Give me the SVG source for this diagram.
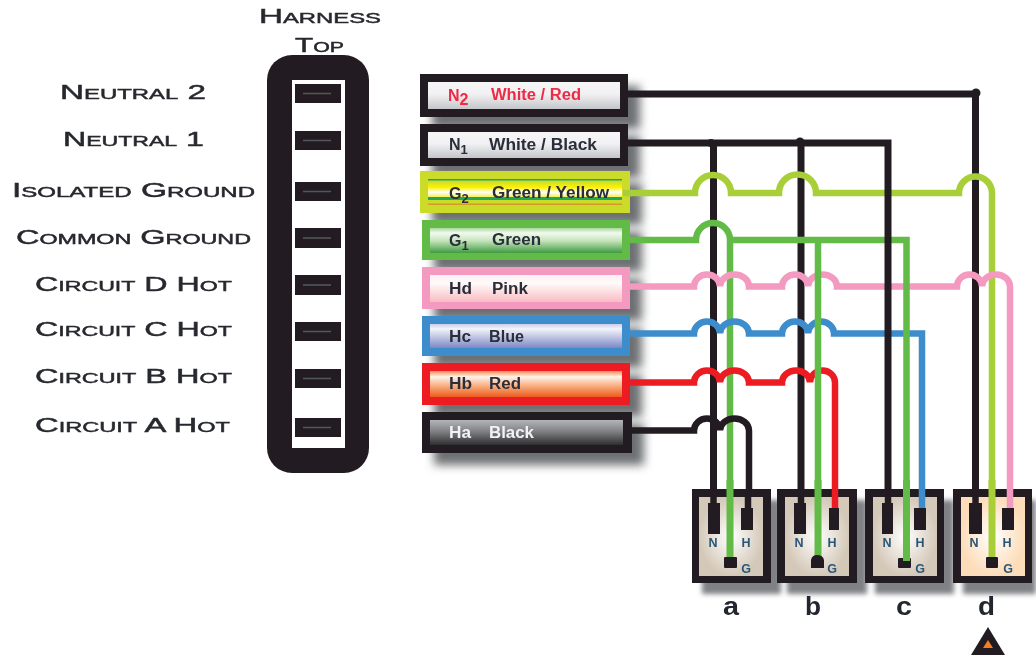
<svg xmlns="http://www.w3.org/2000/svg" width="1036" height="659" viewBox="0 0 1036 659">
<style>
.lab{font-family:"Liberation Sans",Arial,sans-serif;font-weight:400;font-size:19.5px;font-variant:small-caps;fill:#27292e;stroke:#27292e;stroke-width:.45}
.t{font-family:"Liberation Sans",Arial,sans-serif;font-weight:700;font-size:16px;fill:#2b2f3a}
.s{font-size:13px}
.w{fill:none;stroke-width:6.5;stroke-linejoin:miter}
.n{stroke-width:7}
.k{stroke:#231f20}
.yg{stroke:#a8cf38}
.g{stroke:#62bb46}
.p{stroke:#f49ac1}
.b{stroke:#3d8ccb}
.r{stroke:#ed1c24}
.dk{fill:#231f20}
.slot{fill:#231f20}
.sl{stroke:#55575a;stroke-width:1.5}
.shadow{fill:#6d6f72;filter:url(#blur)}
.cs{fill:#7f8185;filter:url(#blur2)}
.cl{font-family:"Liberation Sans",Arial,sans-serif;font-weight:700;font-size:12.5px;fill:#2a5675;text-anchor:middle}
.letter{font-family:"Liberation Sans",Arial,sans-serif;font-weight:700;font-size:25px;fill:#23262e}
</style>
<defs>
<filter id="blur" x="-20%" y="-40%" width="140%" height="180%"><feGaussianBlur stdDeviation="5"/></filter>
<filter id="blur2" x="-20%" y="-20%" width="140%" height="140%"><feGaussianBlur stdDeviation="2.5"/></filter>
<filter id="soft" x="0" y="0" width="1036" height="659" filterUnits="userSpaceOnUse"><feGaussianBlur stdDeviation="0.6"/></filter>
<linearGradient id="gN" x1="0" y1="0" x2="0" y2="1"><stop offset="0" stop-color="#f6f6f7"/><stop offset=".45" stop-color="#f1f1f3"/><stop offset="1" stop-color="#c4c6c9"/></linearGradient>
<linearGradient id="gG2" x1="0" y1="0" x2="0" y2="1"><stop offset="0" stop-color="#cbdb2a"/><stop offset=".4" stop-color="#fff200"/><stop offset=".7" stop-color="#ffffff"/><stop offset="1" stop-color="#f6ee4a"/></linearGradient>
<linearGradient id="gG1" x1="0" y1="0" x2="0" y2="1"><stop offset="0" stop-color="#a9d79b"/><stop offset=".2" stop-color="#f2f9ef"/><stop offset=".5" stop-color="#c7e5bd"/><stop offset="1" stop-color="#3f9c42"/></linearGradient>
<linearGradient id="gP" x1="0" y1="0" x2="0" y2="1"><stop offset="0" stop-color="#fdf0f2"/><stop offset=".3" stop-color="#fffafa"/><stop offset="1" stop-color="#f9bcc3"/></linearGradient>
<linearGradient id="gB" x1="0" y1="0" x2="0" y2="1"><stop offset="0" stop-color="#c9cdea"/><stop offset=".2" stop-color="#f3f4fb"/><stop offset="1" stop-color="#7c87c5"/></linearGradient>
<linearGradient id="gR" x1="0" y1="0" x2="0" y2="1"><stop offset="0" stop-color="#f58a4a"/><stop offset=".22" stop-color="#fff3ea"/><stop offset=".6" stop-color="#f8a878"/><stop offset="1" stop-color="#ee5a1c"/></linearGradient>
<linearGradient id="gK" x1="0" y1="0" x2="0" y2="1"><stop offset="0" stop-color="#b4b5b7"/><stop offset=".45" stop-color="#808284"/><stop offset="1" stop-color="#2f2f30"/></linearGradient>
<radialGradient id="gC"><stop offset="0" stop-color="#ffffff"/><stop offset="1" stop-color="#d4c8b8"/></radialGradient>
<radialGradient id="gD"><stop offset="0" stop-color="#ffffff"/><stop offset="1" stop-color="#fddcb9"/></radialGradient>
</defs>
<g id="diagram" filter="url(#soft)">
<rect width="1036" height="659" fill="#fff"/>
<g id="labels">
<text class="lab" x="259" y="23" textLength="122" lengthAdjust="spacingAndGlyphs">Harness</text>
<text class="lab" x="295" y="52" textLength="49" lengthAdjust="spacingAndGlyphs">Top</text>
<text class="lab" x="60" y="99" textLength="146" lengthAdjust="spacingAndGlyphs">Neutral 2</text>
<text class="lab" x="63" y="146" textLength="141" lengthAdjust="spacingAndGlyphs">Neutral 1</text>
<text class="lab" x="12" y="197" textLength="243" lengthAdjust="spacingAndGlyphs">Isolated Ground</text>
<text class="lab" x="16" y="244" textLength="235" lengthAdjust="spacingAndGlyphs">Common Ground</text>
<text class="lab" x="35" y="291" textLength="197" lengthAdjust="spacingAndGlyphs">Circuit D Hot</text>
<text class="lab" x="35" y="336" textLength="197" lengthAdjust="spacingAndGlyphs">Circuit C Hot</text>
<text class="lab" x="35" y="383" textLength="197" lengthAdjust="spacingAndGlyphs">Circuit B Hot</text>
<text class="lab" x="35" y="432" textLength="195" lengthAdjust="spacingAndGlyphs">Circuit A Hot</text>
</g>

<g id="harness">
<rect x="267" y="55" width="102" height="418" rx="25" class="dk"/>
<rect x="292" y="80" width="53" height="368" fill="#fff"/>
<rect x="295" y="84" width="46" height="19" class="slot"/><path class="sl" d="M303 93.500H331"/>
<rect x="295" y="131" width="46" height="19" class="slot"/><path class="sl" d="M303 140.500H331"/>
<rect x="295" y="182" width="46" height="19" class="slot"/><path class="sl" d="M303 191.500H331"/>
<rect x="295" y="228" width="46" height="20" class="slot"/><path class="sl" d="M303 238H331"/>
<rect x="295" y="275" width="46" height="20" class="slot"/><path class="sl" d="M303 285H331"/>
<rect x="295" y="322" width="46" height="19" class="slot"/><path class="sl" d="M303 331.500H331"/>
<rect x="295" y="369" width="46" height="19" class="slot"/><path class="sl" d="M303 378.500H331"/>
<rect x="295" y="418" width="46" height="19" class="slot"/><path class="sl" d="M303 427.500H331"/>
</g>

<g id="shadows">
<rect x="432" y="86" width="208" height="43" class="shadow"/>
<rect x="432" y="136" width="208" height="42" class="shadow"/>
<rect x="432" y="183" width="210" height="42" class="shadow"/>
<rect x="434" y="232" width="208" height="40" class="shadow"/>
<rect x="434" y="279" width="208" height="42" class="shadow"/>
<rect x="434" y="328" width="208" height="40" class="shadow"/>
<rect x="434" y="375" width="208" height="42" class="shadow"/>
<rect x="434" y="424" width="210" height="41" class="shadow"/>
</g>

<g id="connectors">
<path class="w k n" d="M628 94H975.500V505"/>
<circle cx="976" cy="93" r="4.500" class="dk"/>
<path class="w k n" d="M713.500 143V505M801 143V505"/>
<circle cx="711" cy="143" r="4" class="dk"/><circle cx="800" cy="142" r="4.500" class="dk"/>
<path class="w yg" d="M623 193H695A18 18 0 0 1 731 193H779A18.500 18.500 0 0 1 816 193H959A16.500 16.500 0 0 1 992 193V557"/>
<path class="w g" d="M628 240H696A17 17 0 0 1 730 240V557"/>
<path class="w p" d="M628 286.500H694A13 12 0 0 1 720 286.500A14.500 12 0 0 1 749 286.500H782A13 12 0 0 1 808 286.500A14.500 12 0 0 1 837 286.500H957A12.500 12 0 0 1 982 286.500A14 12 0 0 1 1010 286.500V508"/>
<path class="w b" d="M628 333.500H694A13 12 0 0 1 720 333.500A14.500 12 0 0 1 749 333.500H782A13 12 0 0 1 808 333.500A13 12 0 0 1 834 333.500H922V508"/>
<path class="w r" d="M628 382.500H694A13 12 0 0 1 720 382.500A14.500 12 0 0 1 749 382.500H782A14 12 0 0 1 810 382.500A12.500 12 0 0 1 835 382.500V508"/>
<path class="w k" d="M630 430.500H694A13 12 0 0 1 720 430.500A14.500 12 0 0 1 749 430.500V508"/>
<path class="w g" d="M730 240H906.500V560M818 240V555"/>
<path class="w k n" d="M628 143H888V505"/>
</g>

<g id="wire-N2">
<rect x="420" y="74" width="208" height="43" class="dk"/>
<rect x="428" y="82" width="192" height="27" fill="url(#gN)"/>
<text class="t" x="448" y="101" style="fill:#ee2a45">N<tspan dy="4">2</tspan></text>
<text class="t" x="491" y="100" style="fill:#ee2a45" textLength="90" lengthAdjust="spacingAndGlyphs">White / Red</text>
</g>
<g id="wire-N1">
<rect x="420" y="124" width="208" height="42" class="dk"/>
<rect x="428" y="132" width="192" height="26" fill="url(#gN)"/>
<text class="t" x="449" y="150">N<tspan dy="4" class="s">1</tspan></text>
<text class="t" x="489" y="150" textLength="108" lengthAdjust="spacingAndGlyphs">White / Black</text>
</g>
<g id="wire-G2">
<rect x="420" y="171" width="210" height="42" fill="#cbdb2a"/>
<rect x="428" y="179" width="194" height="1.500" fill="#1fa75a"/>
<rect x="428" y="181" width="194" height="16" fill="url(#gG2)"/>
<rect x="428" y="197" width="194" height="3" fill="#1fa75a"/>
<rect x="428" y="203.500" width="194" height="1.500" fill="#d59a2a"/>
<path class="w yg" d="M623 193H632"/>
<text class="t" x="449" y="199">G<tspan dy="4" class="s">2</tspan></text>
<text class="t" x="492" y="198" textLength="117" lengthAdjust="spacingAndGlyphs">Green / Yellow</text>
</g>
<g id="wire-G1">
<rect x="422" y="220" width="208" height="40" fill="#62bb46"/>
<rect x="430" y="228" width="192" height="25" fill="url(#gG1)"/>
<text class="t" x="449" y="246">G<tspan dy="4" class="s">1</tspan></text>
<text class="t" x="492" y="245" textLength="49" lengthAdjust="spacingAndGlyphs">Green</text>
</g>
<g id="wire-Hd">
<rect x="422" y="267" width="208" height="42" fill="#f49ac1"/>
<rect x="430" y="275" width="192" height="27" fill="url(#gP)"/>
<text class="t" x="449" y="294" textLength="23" lengthAdjust="spacingAndGlyphs">Hd</text>
<text class="t" x="492" y="294" textLength="36" lengthAdjust="spacingAndGlyphs">Pink</text>
</g>
<g id="wire-Hc">
<rect x="422" y="316" width="208" height="40" fill="#3d8ccb"/>
<rect x="430" y="324" width="192" height="24" fill="url(#gB)"/>
<text class="t" x="449" y="342" textLength="22" lengthAdjust="spacingAndGlyphs">Hc</text>
<text class="t" x="489" y="342" textLength="35" lengthAdjust="spacingAndGlyphs">Blue</text>
</g>
<g id="wire-Hb">
<rect x="422" y="363" width="208" height="42" fill="#ed1c24"/>
<rect x="430" y="371" width="192" height="26" fill="url(#gR)"/>
<text class="t" x="449" y="389" textLength="23" lengthAdjust="spacingAndGlyphs">Hb</text>
<text class="t" x="489" y="389" textLength="32" lengthAdjust="spacingAndGlyphs">Red</text>
</g>
<g id="wire-Ha">
<rect x="422" y="412" width="210" height="41" class="dk"/>
<rect x="430" y="420" width="193" height="25" fill="url(#gK)"/>
<text class="t" x="449" y="438" style="fill:#f1f2f6" textLength="22" lengthAdjust="spacingAndGlyphs">Ha</text>
<text class="t" x="489" y="438" style="fill:#f1f2f6" textLength="45" lengthAdjust="spacingAndGlyphs">Black</text>
</g>

<g id="conn-a">
<rect x="702" y="500" width="79" height="94" class="cs"/>
<path class="dk" fill-rule="evenodd" d="M692 489H771V583H692ZM699 497V576H763V497Z"/>
<rect x="699" y="497" width="64" height="79" fill="url(#gC)"/>
<path class="w k" d="M713.500 489V505M748 489V510"/>
<rect x="708" y="503" width="12" height="31" class="dk"/><rect x="741" y="508" width="12" height="22" class="dk"/>
<path class="w g n" d="M730 480V558"/>
<rect x="724" y="557" width="13" height="11" rx="1" class="dk"/>
<text class="cl" x="713" y="547">N</text><text class="cl" x="746" y="547">H</text><text class="cl" x="746" y="573">G</text>
<text class="letter" x="723" y="615" textLength="16" lengthAdjust="spacingAndGlyphs">a</text>
</g>
<g id="conn-b">
<rect x="787" y="500" width="80" height="94" class="cs"/>
<path class="dk" fill-rule="evenodd" d="M777 489H857V583H777ZM785 497V576H849V497Z"/>
<rect x="785" y="497" width="64" height="79" fill="url(#gC)"/>
<path class="w k" d="M801 489V505"/>
<path class="w r" d="M835 489V509"/>
<rect x="794" y="503" width="12" height="31" class="dk"/><rect x="829" y="508" width="10" height="22" class="dk"/>
<path class="w g n" d="M818 480V556"/>
<path class="dk" d="M811 568V560Q812 555 817 555Q823 555 824 560V568Z"/>
<text class="cl" x="799" y="547">N</text><text class="cl" x="832" y="547">H</text><text class="cl" x="832" y="573">G</text>
<text class="letter" x="805" y="615" textLength="16" lengthAdjust="spacingAndGlyphs">b</text>
</g>
<g id="conn-c">
<rect x="875" y="500" width="79" height="94" class="cs"/>
<path class="dk" fill-rule="evenodd" d="M865 489H944V583H865ZM873 497V576H937V497Z"/>
<rect x="873" y="497" width="64" height="79" fill="url(#gC)"/>
<path class="w k" d="M888 489V505"/>
<path class="w b" d="M922 489V509"/>
<rect x="882" y="503" width="11" height="31" class="dk"/><rect x="914" y="508" width="12" height="22" class="dk"/>
<rect x="898" y="558" width="13" height="10" rx="1" class="dk"/>
<path class="w g n" d="M906.500 480V561"/>
<text class="cl" x="887" y="547">N</text><text class="cl" x="920" y="547">H</text><text class="cl" x="920" y="573">G</text>
<text class="letter" x="896" y="615" textLength="16" lengthAdjust="spacingAndGlyphs">c</text>
</g>
<g id="conn-d">
<rect x="963" y="500" width="73" height="94" class="cs"/>
<path class="dk" fill-rule="evenodd" d="M953 489H1032V583H953ZM961 497V576H1025V497Z"/>
<rect x="961" y="497" width="64" height="79" fill="url(#gD)"/>
<path class="w k" d="M975.500 489V505"/>
<path class="w p" d="M1010 489V509"/>
<rect x="969" y="503" width="13" height="31" class="dk"/><rect x="1002" y="508" width="12" height="22" class="dk"/>
<path class="w yg n" d="M992 480V558"/>
<rect x="986" y="557" width="12" height="11" rx="1" class="dk"/>
<text class="cl" x="974" y="547">N</text><text class="cl" x="1007" y="547">H</text><text class="cl" x="1008" y="573">G</text>
<text class="letter" x="978" y="615" textLength="17" lengthAdjust="spacingAndGlyphs">d</text>
</g>
<g id="warning">
<path class="dk" d="M988 627L1005 655H971Z"/>
<path fill="#f47b20" d="M988 640L993 648H983Z"/>
</g>
</g>
</svg>
